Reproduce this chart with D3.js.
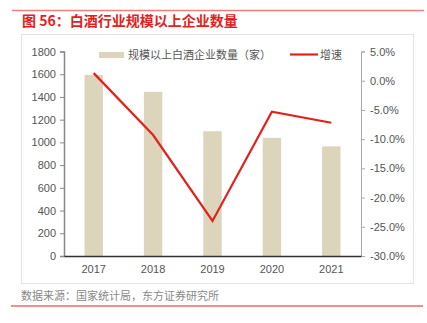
<!DOCTYPE html>
<html><head><meta charset="utf-8">
<script src="https://cdn.jsdelivr.net/npm/d3@7/dist/d3.min.js"></script>
<style>
html,body{margin:0;padding:0;background:#fff;}
svg{display:block;font-family:"Noto Sans CJK SC","Liberation Sans",sans-serif;}
</style></head>
<body><svg id="c" width="427" height="323"></svg>
<script>
const years = ["2017", "2018", "2019", "2020", "2021"];
const companies = [1593, 1445, 1098, 1040, 965];
const growth = [1.3, -9.3, -24.0, -5.3, -7.2];
const countTicks = [0, 200, 400, 600, 800, 1000, 1200, 1400, 1600, 1800];
const growthTicks = [5, 0, -5, -10, -15, -20, -25, -30];

const svg = d3.select("#c");
const red = "#e3211c";
const barColor = "#ddd4bc";
const textColor = "#555";

// header rule and title
svg.append("line").attr("x1", 12).attr("x2", 424).attr("y1", 10.5).attr("y2", 10.5)
  .attr("stroke", "#f08080").attr("stroke-width", 1.5);
svg.append("text").attr("x", 22).attr("y", 26).attr("fill", red)
  .attr("font-size", 14).attr("font-weight", "bold").text("图 56：白酒行业规模以上企业数量");

// chart frame
svg.append("rect").attr("x", 21.5).attr("y", 34.5).attr("width", 392).attr("height", 249)
  .attr("fill", "none").attr("stroke", "#e4e4e4").attr("stroke-width", 1);

const plotLeft = 64, plotRight = 361, plotTop = 51.5, plotBottom = 256;

const x = d3.scaleBand().domain(years).range([plotLeft, plotRight]).paddingInner(0.69).paddingOuter(0.345);
const yL = d3.scaleLinear().domain([0, 1800]).range([plotBottom, plotTop]);
const yR = d3.scaleLinear().domain([-30, 5]).range([plotBottom, plotTop]);

// bars
svg.append("g").selectAll("rect").data(companies).join("rect")
  .attr("x", (d, i) => x(years[i]))
  .attr("width", x.bandwidth())
  .attr("y", d => yL(d))
  .attr("height", d => plotBottom - yL(d))
  .attr("fill", barColor);

// left axis
const gL = svg.append("g").attr("transform", `translate(${plotLeft},0)`)
  .call(d3.axisLeft(yL).tickValues(countTicks).tickSize(4).tickPadding(4).tickFormat(d3.format("d")));
gL.select(".domain").attr("stroke", "#888").attr("stroke-width", 1.5);
gL.selectAll(".tick line").attr("stroke", "#888");
gL.selectAll("text").attr("fill", textColor).attr("font-size", 11)
  .attr("font-family", "Liberation Sans, Arial, sans-serif");

// right axis
const gR = svg.append("g").attr("transform", `translate(${plotRight},0)`)
  .call(d3.axisRight(yR).tickValues(growthTicks).tickSize(4).tickPadding(5)
    .tickFormat(d => d.toFixed(1) + "%"));
gR.select(".domain").attr("stroke", "#aaa");
gR.selectAll(".tick line").attr("stroke", "#aaa");
gR.selectAll("text").attr("fill", textColor).attr("font-size", 11)
  .attr("font-family", "Liberation Sans, Arial, sans-serif");

// bottom axis
const gB = svg.append("g").attr("transform", `translate(0,${plotBottom})`)
  .call(d3.axisBottom(x).tickSize(0).tickPadding(9));
gB.select(".domain").attr("stroke", "#333").attr("stroke-width", 1.5);
gB.selectAll("text").attr("fill", textColor).attr("font-size", 11)
  .attr("font-family", "Liberation Sans, Arial, sans-serif");

// growth line
const line = d3.line().x((d, i) => x(years[i]) + x.bandwidth() / 2).y(d => yR(d));
svg.append("path").datum(growth).attr("d", line)
  .attr("fill", "none").attr("stroke", red).attr("stroke-width", 2.2);

// legend
const lg = svg.append("g");
lg.append("rect").attr("x", 99).attr("y", 52).attr("width", 25).attr("height", 6).attr("fill", barColor);
lg.append("text").attr("x", 128).attr("y", 59).attr("font-size", 11).attr("fill", textColor)
  .text("规模以上白酒企业数量（家）");
lg.append("line").attr("x1", 290).attr("x2", 318).attr("y1", 54.5).attr("y2", 54.5)
  .attr("stroke", red).attr("stroke-width", 2.2);
lg.append("text").attr("x", 320).attr("y", 59).attr("font-size", 11).attr("fill", textColor).text("增速");

// source and footer rule
svg.append("text").attr("x", 21).attr("y", 300).attr("font-size", 11).attr("fill", "#888")
  .text("数据来源：国家统计局，东方证券研究所");
svg.append("line").attr("x1", 11).attr("x2", 423).attr("y1", 306).attr("y2", 306)
  .attr("stroke", red).attr("stroke-width", 1);
</script></body></html>
